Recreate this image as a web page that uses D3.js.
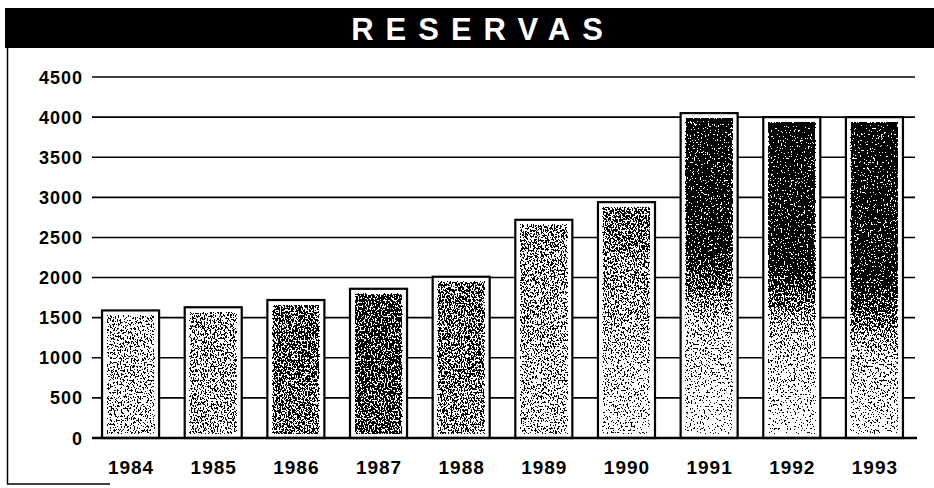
<!DOCTYPE html>
<html>
<head>
<meta charset="utf-8">
<script src="https://cdn.jsdelivr.net/npm/d3@7"></script>
<style>
  html, body { margin: 0; padding: 0; background: #fff; }
  svg { display: block; }
  text { font-family: "Liberation Sans", Arial, Helvetica, sans-serif; font-weight: bold; }
</style>
</head>
<body>
<svg id="chart" width="934" height="488"></svg>
<script>
// ── DATA ─────────────────────────────────────────────────────────────
const years = ['1984', '1985', '1986', '1987', '1988', '1989', '1990', '1991', '1992', '1993'];
const reservas = [1590, 1630, 1720, 1860, 2010, 2720, 2940, 4050, 4000, 4000];
const yTicks = [0, 500, 1000, 1500, 2000, 2500, 3000, 3500, 4000, 4500];

// stipple density per bar (top, mid, where mid sits, bottom) - just the look
const shadeTop = [0.32, 0.42, 0.58, 0.7, 0.55, 0.48, 0.58, 1.0, 1.0, 1.0];
const shadeMid = [0.3, 0.4, 0.6, 0.72, 0.52, 0.38, 0.4, 0.92, 0.92, 0.9];
const shadeMidAt = [0.5, 0.5, 0.5, 0.5, 0.5, 0.5, 0.45, 0.42, 0.46, 0.52];
const shadeBot = [0.25, 0.35, 0.5, 0.62, 0.48, 0.25, 0.1, 0.03, 0.03, 0.1];

const svg = d3.select('#chart');
const W = 934, H = 488;
const plot = { left: 92, right: 915, top: 77, bottom: 438 };

const x = d3.scaleBand().domain(years).range([88, 917]).paddingInner(0.31).paddingOuter(0.17);
const y = d3.scaleLinear().domain([0, 4500]).range([plot.bottom, plot.top]);

// ── FRAME & TITLE ───────────────────────────────────────────────────
svg.append('rect').attr('x', 5).attr('y', 8).attr('width', W - 5).attr('height', 40).attr('fill', '#000');
svg.append('text')
  .attr('x', 477 + 6).attr('y', 40)
  .attr('text-anchor', 'middle')
  .attr('fill', '#fff')
  .attr('font-size', 31)
  .attr('letter-spacing', 12)
  .text('RESERVAS');

svg.append('line').attr('x1', 7.5).attr('x2', 7.5).attr('y1', 48).attr('y2', 484)
  .attr('stroke', '#000').attr('stroke-width', 1.5);
svg.append('line').attr('x1', 7).attr('x2', 110).attr('y1', 484).attr('y2', 484)
  .attr('stroke', '#000').attr('stroke-width', 1.5);

// ── DEFS: gradients + stipple filter ────────────────────────────────
const defs = svg.append('defs');
years.forEach((yr, i) => {
  const g = defs.append('linearGradient').attr('id', 'g' + i)
    .attr('x1', 0).attr('x2', 0).attr('y1', 0).attr('y2', 1);
  g.append('stop').attr('offset', 0).attr('stop-color', '#000').attr('stop-opacity', shadeTop[i]);
  g.append('stop').attr('offset', shadeMidAt[i]).attr('stop-color', '#000').attr('stop-opacity', shadeMid[i]);
  g.append('stop').attr('offset', Math.min(1, shadeMidAt[i] + 0.22)).attr('stop-color', '#000')
    .attr('stop-opacity', (shadeMid[i] + shadeBot[i]) / 2 * (i > 6 ? 0.6 : 1));
  g.append('stop').attr('offset', 1).attr('stop-color', '#000').attr('stop-opacity', shadeBot[i]);
});

const f = defs.append('filter').attr('id', 'stipple')
  .attr('x', 0).attr('y', 0).attr('width', 1).attr('height', 1)
  .attr('color-interpolation-filters', 'sRGB');
f.append('feTurbulence').attr('type', 'fractalNoise').attr('baseFrequency', '0.7 0.5')
  .attr('numOctaves', 2).attr('seed', 7).attr('result', 'noise');
// noise -> black with alpha = stretched noise
f.append('feColorMatrix').attr('in', 'noise').attr('type', 'matrix')
  .attr('values', '0 0 0 0 0  0 0 0 0 0  0 0 0 0 0  3.2 0 0 0 -1.1')
  .attr('result', 'na');
f.append('feComposite').attr('in', 'SourceGraphic').attr('in2', 'na')
  .attr('operator', 'arithmetic').attr('k1', 0).attr('k2', 6).attr('k3', -6).attr('k4', 0.5)
  .attr('result', 'diff');
f.append('feColorMatrix').attr('in', 'diff').attr('type', 'matrix')
  .attr('values', '0 0 0 0 0  0 0 0 0 0  0 0 0 0 0  0 0 0 1 0')
  .attr('result', 'blk');
const ct = f.append('feComponentTransfer').attr('in', 'blk');
ct.append('feFuncA').attr('type', 'discrete').attr('tableValues', '0 1');

// ── GRID ────────────────────────────────────────────────────────────
svg.append('g').selectAll('line').data(yTicks.filter(d => d > 0)).join('line')
  .attr('x1', plot.left).attr('x2', plot.right)
  .attr('y1', d => y(d)).attr('y2', d => y(d))
  .attr('stroke', '#000').attr('stroke-width', 1.6);

// y labels
svg.append('g').selectAll('text').data(yTicks).join('text')
  .attr('x', 83).attr('y', d => y(d) + 6.5)
  .attr('text-anchor', 'end')
  .attr('font-size', 18)
  .attr('letter-spacing', 1)
  .text(d => d);

// ── BARS ────────────────────────────────────────────────────────────
const bars = svg.append('g').selectAll('g').data(years).join('g');
bars.append('rect')
  .attr('x', d => x(d)).attr('width', x.bandwidth())
  .attr('y', (d, i) => y(reservas[i])).attr('height', (d, i) => y(0) - y(reservas[i]))
  .attr('fill', '#fff').attr('stroke', '#000').attr('stroke-width', 2.2);
bars.append('rect')
  .attr('x', d => x(d) + 5).attr('width', x.bandwidth() - 10)
  .attr('y', (d, i) => y(reservas[i]) + 5).attr('height', (d, i) => y(0) - y(reservas[i]) - 9)
  .attr('fill', (d, i) => `url(#g${i})`)
  .attr('filter', 'url(#stipple)');

// baseline
svg.append('line').attr('x1', plot.left).attr('x2', 917)
  .attr('y1', y(0)).attr('y2', y(0)).attr('stroke', '#000').attr('stroke-width', 2.4);

// x labels
svg.append('g').selectAll('text').data(years).join('text')
  .attr('x', d => x(d) + x.bandwidth() / 2 + 0.5).attr('y', 474)
  .attr('text-anchor', 'middle')
  .attr('font-size', 19)
  .attr('letter-spacing', 1)
  .text(d => d);
</script>
</body>
</html>
